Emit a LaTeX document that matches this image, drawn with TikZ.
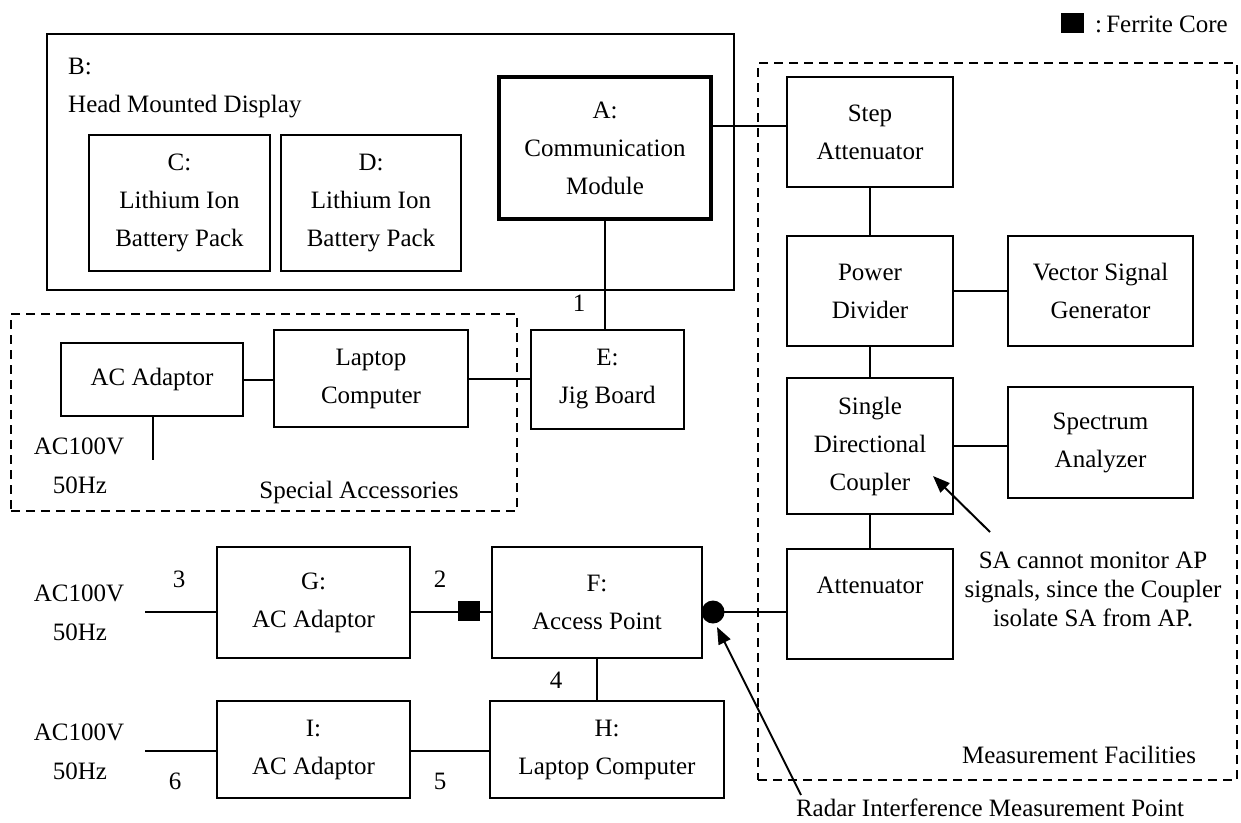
\documentclass[tikz,border=0pt]{standalone}
\usepackage{fontspec}
\setmainfont{Liberation Serif}
\usetikzlibrary{arrows.meta}
\begin{document}
\begin{tikzpicture}[x=1pt,y=-1pt,
  box/.style={draw, line width=2pt, rectangle, inner sep=0pt, align=center, font=\fontsize{25}{38}\selectfont},
  lbl/.style={inner sep=0pt, anchor=base, font=\fontsize{25}{38}\selectfont},
  grp/.style={draw, line width=2.6pt, dash pattern=on 9pt off 6pt, rectangle, inner sep=0pt},
  wire/.style={line width=2pt},
  ptr/.style={line width=2pt, -{Triangle[length=17pt,width=13pt]}}]
\useasboundingbox (0,0) rectangle (1241,822);

% legend
\node[fill=black, minimum width=23pt, minimum height=20pt, inner sep=0pt] (fclegend) at (1072.5,23) {};
\node[lbl, anchor=base west] (fctext) at (1095,32) {:\,Ferrite Core};

% group boxes
\node[grp, minimum width=479pt, minimum height=717pt] (MF) at (997.5,421.5) {};
\node[grp, minimum width=506pt, minimum height=197pt] (SPA) at (264,412.5) {};

% head mounted display
\node[box, minimum width=687pt, minimum height=256pt] (B) at (390.5,162) {};
\node[lbl, anchor=base west] (Blbl) at (68,74) {B:};
\node[lbl, anchor=base west] (HMD) at (68,112) {Head Mounted Display};
\node[box, minimum width=181pt, minimum height=136pt] (C) at (179.5,203) {C:\\Lithium Ion\\Battery Pack};
\node[box, minimum width=180pt, minimum height=136pt] (D) at (371,203) {D:\\Lithium Ion\\Battery Pack};
\node[box, line width=4.5pt, minimum width=212pt, minimum height=142pt] (A) at (605,148) {A:\\Communication\\Module};

% special accessories
\node[box, minimum width=182pt, minimum height=73pt] (ACa) at (152,379.5) {AC Adaptor};
\node[box, minimum width=194pt, minimum height=97pt] (Lap) at (371,378.5) {Laptop\\Computer};
\node[box, minimum width=153pt, minimum height=99pt] (E) at (607.5,379.5) {E:\\Jig Board};
\node[lbl] (ac1a) at (79,454) {AC100V};
\node[lbl] (ac1b) at (80,493) {50Hz};
\node[lbl] (SPAlbl) at (359,498) {Special Accessories};
\node[lbl] (n1) at (579,311) {1};

% measurement facilities
\node[box, minimum width=166pt, minimum height=110pt] (SAtt) at (870,132) {Step\\Attenuator};
\node[box, minimum width=166pt, minimum height=110pt] (PD) at (870,291) {Power\\Divider};
\node[box, minimum width=185pt, minimum height=110pt] (VSG) at (1100.5,291) {Vector Signal\\Generator};
\node[box, minimum width=166pt, minimum height=136pt] (SDC) at (870,446) {Single\\Directional\\Coupler};
\node[box, minimum width=185pt, minimum height=111pt] (SpecA) at (1100.5,442.5) {Spectrum\\Analyzer};
\node[box, minimum width=166pt, minimum height=110pt] (Att) at (870,604) {Attenuator\\\mbox{}};
\node[inner sep=0pt, align=center, font=\fontsize{25}{29}\selectfont] (note) at (1093,589) {SA cannot monitor AP\\signals, since the Coupler\\isolate SA from AP.};
\node[lbl] (MFlbl) at (1079,763) {Measurement Facilities};
\node[lbl] (radar) at (990,816) {Radar Interference Measurement Point};

% access point area
\node[box, minimum width=193pt, minimum height=111pt] (G) at (313.5,602.5) {G:\\AC Adaptor};
\node[box, minimum width=210pt, minimum height=111pt] (F) at (597,602.5) {F:\\Access Point};
\node[box, minimum width=193pt, minimum height=97pt] (I) at (313.5,749.5) {I:\\AC Adaptor};
\node[box, minimum width=234pt, minimum height=97pt] (H) at (607,749.5) {H:\\Laptop Computer};
\node[lbl] (ac2a) at (79,601) {AC100V};
\node[lbl] (ac2b) at (80,640) {50Hz};
\node[lbl] (ac3a) at (79,740) {AC100V};
\node[lbl] (ac3b) at (80,779) {50Hz};
\node[lbl] (n2) at (440,587) {2};
\node[lbl] (n3) at (179,587) {3};
\node[lbl] (n4) at (556,688) {4};
\node[lbl] (n5) at (440,789) {5};
\node[lbl] (n6) at (175,789) {6};

% connectors
\coordinate (ya) at (0,126);
\draw[wire] (A.east |- ya) -- (SAtt.west |- ya);
\draw[wire] (A.south) -- (A.south |- E.north);
\draw[wire] (ACa.east) -- (ACa.east -| Lap.west);
\draw[wire] (Lap.east) -- (Lap.east -| E.west);
\coordinate (acend) at (153,460);
\draw[wire] (ACa.south -| acend) -- (acend);
\draw[wire] (SAtt.south) -- (PD.north);
\draw[wire] (PD.east) -- (VSG.west);
\draw[wire] (PD.south) -- (SDC.north);
\draw[wire] (SDC.east) -- (SDC.east -| SpecA.west);
\draw[wire] (SDC.south) -- (Att.north);

\coordinate (in1) at (145,612);
\draw[wire] (in1) -- (in1 -| G.west);
\draw[wire] (G.east |- in1) -- (F.west |- in1);
\draw[wire] (F.east |- in1) -- (Att.west |- in1);
\node[fill=black, minimum width=22pt, minimum height=20pt, inner sep=0pt] (ferrite) at (469,611) {};
\node[fill=black, circle, minimum size=23pt, inner sep=0pt] (dot) at (713,612) {};
\draw[wire] (F.south) -- (F.south |- H.north);
\coordinate (in2) at (145,751);
\draw[wire] (in2) -- (in2 -| I.west);
\draw[wire] (I.east |- in2) -- (H.west |- in2);

% pointers
\coordinate (satail) at (990,532);
\coordinate (satip) at (933,476);
\draw[ptr] (satail) -- (satip);
\coordinate (radtail) at (801,795);
\coordinate (radtip) at (717,627);
\draw[ptr] (radtail) -- (radtip);
\end{tikzpicture}
\end{document}
